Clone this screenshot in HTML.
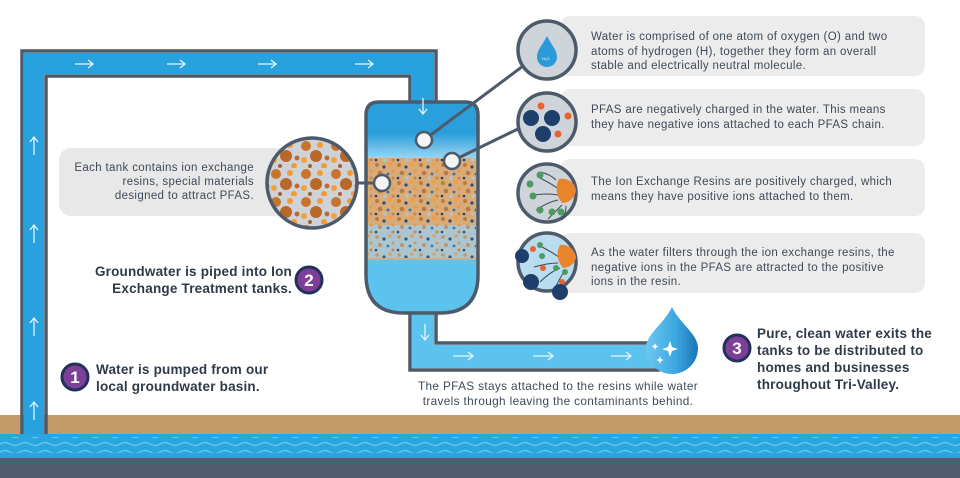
<!DOCTYPE html>
<html><head><meta charset="utf-8"><style>
body{margin:0;width:960px;height:478px;overflow:hidden;background:#fff;font-family:"Liberation Sans",sans-serif;position:relative}
.t{position:absolute;color:#3e4a58;font-size:11.5px;line-height:14.5px;white-space:nowrap;letter-spacing:0.35px}
.s{position:absolute;color:#2f3a48;font-size:13.5px;font-weight:bold;line-height:17px;white-space:nowrap;letter-spacing:0.2px}
svg{position:absolute;left:0;top:0}
</style></head><body>
<svg width="960" height="478" viewBox="0 0 960 478">
<defs>
<linearGradient id="tk" x1="0" y1="0" x2="0" y2="1">
<stop offset="0" stop-color="#2b9fdc"/><stop offset="0.15" stop-color="#2b9fdc"/><stop offset="0.27" stop-color="#9fd6f2"/><stop offset="0.27" stop-color="#d5a877"/><stop offset="0.75" stop-color="#c8b08a"/><stop offset="0.75" stop-color="#5cc3ee"/><stop offset="1" stop-color="#5cc3ee"/>
</linearGradient>
<linearGradient id="dg" x1="0" y1="0" x2="1" y2="0">
<stop offset="0" stop-color="#6cc8f0"/><stop offset="0.6" stop-color="#3aa5df"/><stop offset="1" stop-color="#1a74b4"/>
</linearGradient>
<pattern id="rs" width="22" height="18" patternUnits="userSpaceOnUse">
<rect width="22" height="18" fill="#d9ab78"/>
<circle cx="3" cy="3" r="2" fill="#c07a35"/><circle cx="10" cy="5" r="1.6" fill="#1f4f86"/><circle cx="16" cy="2" r="2.2" fill="#f0a040"/><circle cx="6" cy="11" r="2.3" fill="#b87a45"/><circle cx="14" cy="12" r="1.4" fill="#2b6fb0"/><circle cx="19" cy="9" r="1.8" fill="#e39c4c"/><circle cx="2" cy="16" r="1.3" fill="#1a3f70"/><circle cx="11" cy="16" r="1.7" fill="#a9c9d8"/><circle cx="19" cy="16" r="1.5" fill="#c58550"/>
</pattern>
<pattern id="rs2" width="22" height="18" patternUnits="userSpaceOnUse">
<rect width="22" height="18" fill="#a8c8d6"/>
<circle cx="3" cy="3" r="1.8" fill="#c89060"/><circle cx="10" cy="5" r="1.6" fill="#1f4f86"/><circle cx="16" cy="2" r="1.8" fill="#d8a068"/><circle cx="6" cy="11" r="2" fill="#c09068"/><circle cx="14" cy="12" r="1.4" fill="#2b6fb0"/><circle cx="19" cy="9" r="1.5" fill="#d49858"/><circle cx="2" cy="16" r="1.3" fill="#1a3f70"/><circle cx="19" cy="16" r="1.5" fill="#c58550"/>
</pattern>
<pattern id="bg" width="30" height="28" patternUnits="userSpaceOnUse">
<rect width="30" height="28" fill="#cfd3d8"/>
<circle cx="6" cy="6" r="5" fill="#c8742c"/><circle cx="20" cy="5" r="3" fill="#f29b32"/><circle cx="16" cy="16" r="6" fill="#b9682a"/><circle cx="4" cy="20" r="3" fill="#f2a040"/><circle cx="27" cy="18" r="2.5" fill="#c06a30"/><circle cx="10" cy="26" r="2" fill="#a86030"/><circle cx="24" cy="26" r="3" fill="#f29b32"/>
</pattern>
<clipPath id="c1"><circle cx="312" cy="183" r="44"/></clipPath>
<pattern id="wv" width="20" height="8" patternUnits="userSpaceOnUse">
<path d="M0 4 q5 -3 10 0 t10 0" fill="none" stroke="#6cc6ef" stroke-width="1.2"/>
</pattern>
</defs>
<!-- ground -->
<rect x="0" y="415" width="960" height="20" fill="#c59a6b"/>
<rect x="0" y="434" width="960" height="25" fill="#2aa6df"/>
<rect x="0" y="437" width="960" height="16" fill="url(#wv)"/>
<rect x="0" y="458" width="960" height="20" fill="#4f5d6e"/>
<!-- main pipe -->
<path d="M22 434 V51 H436 V103 M46 434 V76 H410 V103" fill="none" stroke="#4d5a69" stroke-width="3.5"/>
<path d="M24 434 V53 H434 V104 H412 V74 H44 V434Z" fill="#27a2de"/>
<g stroke="#e6f5fc" stroke-width="1.3" fill="none">
<path d="M75 64 H93 M88 60 l5 4 -5 4 M167 64 H185 M180 60 l5 4 -5 4 M258 64 H276 M271 60 l5 4 -5 4 M355 64 H373 M368 60 l5 4 -5 4"/>
<path d="M34 137 V155 M30 142 l4 -5 4 5 M34 225 V243 M30 230 l4 -5 4 5 M34 318 V336 M30 323 l4 -5 4 5 M34 402 V420 M30 407 l4 -5 4 5"/>
</g>
<!-- bottom pipe -->
<path d="M410 312 V370 H660 M436 312 V343 H660" fill="none" stroke="#4d5a69" stroke-width="3.5"/>
<rect x="412" y="310" width="22" height="58" fill="#5cc3ee"/><rect x="412" y="345" width="250" height="23" fill="#5cc3ee"/>
<g stroke="#e6f5fc" stroke-width="1.3" fill="none">
<path d="M425 324 V340 M421 335 l4 5 4 -5 M453 356 H473 M468 352 l5 4 -5 4 M533 356 H553 M548 352 l5 4 -5 4 M611 356 H631 M626 352 l5 4 -5 4"/>
</g>
<!-- tank -->
<path d="M366 115 q0 -13 13 -13 H465 q13 0 13 13 V275 q0 38 -38 38 H404 q-38 0 -38 -38Z" fill="url(#tk)" stroke="#4d5a69" stroke-width="3.5"/>
<rect x="368" y="158" width="108" height="67" fill="url(#rs)"/>
<rect x="368" y="225" width="108" height="33" fill="url(#rs2)" opacity="0.9"/>
<g stroke="#e6f5fc" stroke-width="1.3" fill="none"><path d="M423 98 V114 M419 109 l4 5 4 -5"/></g>
<!-- drop -->
<path d="M672 307 C680 324 698 334 698 348 A26 26 0 0 1 646 348 C646 334 664 324 672 307Z" fill="url(#dg)"/>
<g fill="#fff"><path d="M670 341 l2 6 6 2 -6 2 -2 6 -2 -6 -6 -2 6 -2z"/><path d="M660 356 l1 3 3 1 -3 1 -1 3 -1 -3 -3 -1 3 -1z"/><path d="M655 343 l1 2.5 2.5 1 -2.5 1 -1 2.5 -1 -2.5 -2.5 -1 2.5 -1z"/></g>
<!-- left panel -->
<rect x="59" y="148" width="250" height="68" rx="12" fill="#e8e8e8"/>
<line x1="350" y1="183" x2="380" y2="183" stroke="#4d5a69" stroke-width="3"/>
<circle cx="312" cy="183" r="44" fill="url(#bg)" clip-path="url(#c1)"/>
<circle cx="312" cy="183" r="45" fill="none" stroke="#4d5a69" stroke-width="3.5"/>
<!-- connectors -->
<line x1="424" y1="140" x2="527" y2="63" stroke="#4d5a69" stroke-width="3"/>
<line x1="452" y1="161" x2="520" y2="128" stroke="#4d5a69" stroke-width="3"/>
<circle cx="424" cy="140" r="8" fill="#f2f4f6" stroke="#4d5a69" stroke-width="2.5"/>
<circle cx="452" cy="161" r="8" fill="#f2f4f6" stroke="#4d5a69" stroke-width="2.5"/>
<circle cx="382" cy="183" r="8" fill="#f2f4f6" stroke="#4d5a69" stroke-width="2.5"/>
<!-- right panels -->
<rect x="560" y="16" width="365" height="60" rx="10" fill="#ececec"/>
<rect x="560" y="89" width="365" height="57" rx="10" fill="#ececec"/>
<rect x="560" y="159" width="365" height="57" rx="10" fill="#ececec"/>
<rect x="560" y="233" width="365" height="60" rx="10" fill="#ececec"/>
<g stroke="#4d5a69" stroke-width="3.5">
<circle cx="547" cy="50" r="29" fill="#cfd4da"/>
<circle cx="547" cy="122" r="29" fill="#cfd4da"/>
<circle cx="547" cy="193" r="29" fill="#cfd4da"/>
<circle cx="547" cy="262" r="29" fill="#b9dcef"/>
</g>
<path d="M547 36 C552 46 557 50 557 57 A10 10 0 0 1 537 57 C537 50 542 46 547 36Z" fill="#2a9bd8"/>
<text x="542" y="60" font-size="4" fill="#fff">H₂O</text>
<g fill="#1e3f6c"><circle cx="531" cy="118" r="8"/><circle cx="552" cy="118" r="8"/><circle cx="543" cy="134" r="8"/></g>
<g fill="#e8622c"><circle cx="541" cy="106" r="3.5"/><circle cx="568" cy="116" r="3.5"/><circle cx="558" cy="134" r="3.5"/></g>
<g stroke="#3d4a58" stroke-width="1" fill="none"><path d="M560 190 q-8 -6 -20 -12 M558 195 q-10 -2 -24 0 M558 200 q-10 2 -22 10 M562 205 q-6 6 -14 14 M566 206 q0 8 -4 14 M556 180 q-6 -6 -16 -8"/>
<path d="M560 258 q-8 -6 -20 -12 M558 263 q-10 0 -24 4 M560 268 q-10 4 -20 14 M564 272 q-4 6 -8 14"/></g>
<path d="M576 190 A14 14 0 0 0 559 179 q-6 12 3 24 A14 14 0 0 0 576 190Z" fill="#e8842c"/>
<path d="M576 258 A14 14 0 0 0 560 245 q-6 12 3 23 A14 14 0 0 0 576 258Z" fill="#e8842c"/>
<g fill="#4e9a62"><circle cx="530" cy="184" r="3.5"/><circle cx="533" cy="196" r="3.5"/><circle cx="540" cy="210" r="3.5"/><circle cx="552" cy="212" r="3.5"/><circle cx="561" cy="212" r="3.5"/><circle cx="540" cy="175" r="3.5"/>
<circle cx="540" cy="245" r="3" /><circle cx="542" cy="256" r="3"/><circle cx="556" cy="268" r="3"/><circle cx="565" cy="272" r="3"/></g>
<g fill="#e8622c"><circle cx="533" cy="249" r="3"/><circle cx="543" cy="268" r="3"/><circle cx="562" cy="282" r="3"/></g>
<g fill="#1e3f6c"><circle cx="522" cy="256" r="7"/><circle cx="531" cy="282" r="8"/><circle cx="560" cy="292" r="8"/></g>
<!-- badges -->
<g stroke="#23315a" stroke-width="3" fill="#7d3f98"><circle cx="75" cy="377" r="13"/><circle cx="309" cy="280" r="13"/><circle cx="737" cy="348" r="13"/></g>
<g fill="#fff" font-size="17" font-weight="bold" font-family="Liberation Sans" text-anchor="middle"><text x="75" y="383">1</text><text x="309" y="286">2</text><text x="737" y="354">3</text></g>
</svg>
<div class="t" style="left:591px;top:30px">Water is comprised of one atom of oxygen (O) and two<br>atoms of hydrogen (H), together they form an overall<br>stable and electrically neutral molecule.</div>
<div class="t" style="left:591px;top:103px">PFAS are negatively charged in the water. This means<br>they have negative ions attached to each PFAS chain.</div>
<div class="t" style="left:591px;top:175px">The Ion Exchange Resins are positively charged, which<br>means they have positive ions attached to them.</div>
<div class="t" style="left:591px;top:246px">As the water filters through the ion exchange resins, the<br>negative ions in the PFAS are attracted to the positive<br>ions in the resin.</div>
<div class="t" style="left:60px;top:161px;width:194px;text-align:right;line-height:14px">Each tank contains ion exchange<br>resins, special materials<br>designed to attract PFAS.</div>
<div class="t" style="left:398px;top:379px;width:320px;text-align:center;line-height:15px;font-size:11.8px">The PFAS stays attached to the resins while water<br>travels through leaving the contaminants behind.</div>
<div class="s" style="left:96px;top:361px">Water is pumped from our<br>local groundwater basin.</div>
<div class="s" style="left:80px;top:263px;width:212px;text-align:right">Groundwater is piped into Ion<br>Exchange Treatment tanks.</div>
<div class="s" style="left:757px;top:325px">Pure, clean water exits the<br>tanks to be distributed to<br>homes and businesses<br>throughout Tri-Valley.</div>
</body></html>
